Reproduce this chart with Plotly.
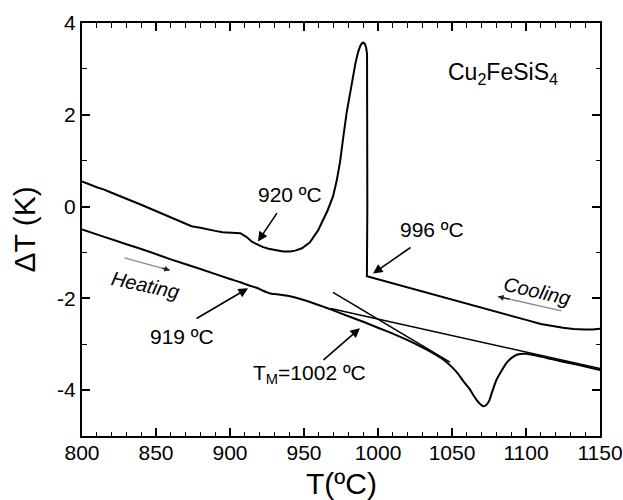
import plotly.graph_objects as go

# ---------------- data ----------------
heating_T = [800, 815, 830, 846, 860, 880, 900, 907, 912, 915, 918, 922, 925, 928, 931, 934, 940, 947,
             955, 962, 968, 980, 990, 1000, 1010, 1020, 1030, 1040, 1046, 1050, 1054, 1058, 1062, 1065,
             1068, 1071, 1073, 1075, 1077, 1080, 1084, 1087, 1091, 1095, 1100, 1110, 1118, 1125, 1135, 1150]
heating_dT = [-0.50, -0.66, -0.82, -0.99, -1.15, -1.36, -1.58, -1.65, -1.71, -1.74, -1.77, -1.83, -1.87,
              -1.90, -1.91, -1.92, -1.95, -2.01, -2.09, -2.17, -2.24, -2.39, -2.51, -2.64, -2.77, -2.91,
              -3.07, -3.25, -3.38, -3.50, -3.64, -3.82, -3.98, -4.14, -4.27, -4.35, -4.33, -4.24, -4.05,
              -3.78, -3.55, -3.40, -3.28, -3.22, -3.21, -3.27, -3.33, -3.38, -3.45, -3.56]

cooling_T = [1150, 1145, 1140, 1132, 1125, 1118, 1110, 1100, 1062, 1030, 992.5, 992.8, 993.0, 992.9, 992.6,
             992.0, 991.2, 990.2, 989.2, 988.0, 986.5, 984.8, 983.2, 981, 978.8, 976.5, 974.3, 972, 969.6,
             966, 962.8, 959.5, 954, 948.6, 944, 940.5, 936, 931.6, 926, 922, 919, 915, 911, 907, 901, 895,
             890, 885, 880, 874, 860, 840, 820, 815, 810, 800]
cooling_dT = [-2.66, -2.68, -2.68, -2.67, -2.64, -2.60, -2.56, -2.47, -2.13, -1.85, -1.52, 0.0, 2.5, 3.1,
              3.32, 3.46, 3.54, 3.57, 3.56, 3.50, 3.36, 3.13, 2.85, 2.50, 2.04, 1.50, 0.96, 0.55, 0.22,
              -0.08, -0.30, -0.52, -0.78, -0.91, -0.96, -0.98, -0.98, -0.96, -0.92, -0.88, -0.84, -0.77,
              -0.66, -0.58, -0.57, -0.56, -0.53, -0.49, -0.46, -0.43, -0.23, 0.04, 0.30, 0.37, 0.42, 0.55]

baseline_T = [968, 1150]
baseline_dT = [-2.22, -3.53]

tangent_T = [969.6, 1048.6]
tangent_dT = [-1.87, -3.39]

x_ticks = [800, 850, 900, 950, 1000, 1050, 1100, 1150]
y_ticks = [-4, -2, 0, 2, 4]
y_ticktext = ["-4", "-2", "0", "2", "4"]

# annotation anchors (data coordinates): text, x, y
labels = [
    ("920 ºC", 940.5, 0.26),
    ("996 ºC", 1036.5, -0.50),
    ("919 ºC", 867.6, -2.83),
    ("T<sub>M</sub>=1002 ºC", 954, -3.65),
]
# arrows: (head_x, head_y, tail_x, tail_y)
black_arrows = [
    (918.9, -0.76, 932.4, -0.11),
    (996.6, -1.46, 1023.0, -0.87),
    (912.2, -1.78, 876.4, -2.46),
    (987.8, -2.65, 962.2, -3.37),
]
gray_arrows = [
    (859.5, -1.39, 827.7, -1.11),
    (1081.0, -1.96, 1125.0, -2.28),
]

FONT = "Liberation Sans, Arial, Helvetica, sans-serif"

fig = go.Figure()
fig.add_trace(go.Scatter(x=heating_T, y=heating_dT, mode="lines",
                         line=dict(color="black", width=2, shape="spline", smoothing=0.6)))
fig.add_trace(go.Scatter(x=cooling_T, y=cooling_dT, mode="lines",
                         line=dict(color="black", width=2)))
fig.add_trace(go.Scatter(x=baseline_T, y=baseline_dT, mode="lines", line=dict(color="black", width=1.6)))
fig.add_trace(go.Scatter(x=tangent_T, y=tangent_dT, mode="lines", line=dict(color="black", width=1.6)))

for txt, x, y in labels:
    fig.add_annotation(x=x, y=y, text=txt, showarrow=False, font=dict(size=21, color="black", family=FONT))

fig.add_annotation(x=1084.5, y=2.91, text="Cu<sub>2</sub>FeSiS<sub>4</sub>", showarrow=False,
                   font=dict(size=23, color="black", family=FONT))
fig.add_annotation(x=842.6, y=-1.70, text="<i>Heating</i>", showarrow=False, textangle=12,
                   font=dict(size=20, color="black", family=FONT))
fig.add_annotation(x=1107.4, y=-1.85, text="<i>Cooling</i>", showarrow=False, textangle=13,
                   font=dict(size=20, color="black", family=FONT))

for hx, hy, tx, ty in black_arrows:
    fig.add_annotation(x=hx, y=hy, ax=tx, ay=ty, xref="x", yref="y", axref="x", ayref="y",
                       text="", showarrow=True, arrowhead=2, arrowsize=1.2, arrowwidth=1.6,
                       arrowcolor="black")
for hx, hy, tx, ty in gray_arrows:
    fig.add_annotation(x=hx, y=hy, ax=tx, ay=ty, xref="x", yref="y", axref="x", ayref="y",
                       text="", showarrow=True, arrowhead=0, arrowwidth=1.3, arrowcolor="#8a8a8a")
    fig.add_annotation(x=hx, y=hy, ax=hx - (hx - tx) * 0.2, ay=hy - (hy - ty) * 0.2,
                       xref="x", yref="y", axref="x", ayref="y",
                       text="", showarrow=True, arrowhead=2, arrowsize=0.9, arrowwidth=1.3,
                       arrowcolor="#222")

# axis titles
fig.add_annotation(x=0.5, y=0, xref="paper", yref="paper", xanchor="center", yanchor="middle",
                   yshift=-47, text="T(ºC)", showarrow=False,
                   font=dict(size=30, color="black", family=FONT))
fig.add_annotation(x=0, y=0.5, xref="paper", yref="paper", xanchor="center", yanchor="middle",
                   xshift=-58, text="ΔT (K)", showarrow=False,
                   textangle=-90, font=dict(size=30, color="black", family=FONT))

axis_common = dict(
    showline=True, linewidth=2, linecolor="black", mirror="allticks",
    ticks="inside", ticklen=8, tickwidth=1.5, tickcolor="black",
    showgrid=False, zeroline=False, automargin=False,
    tickfont=dict(size=21, color="black", family=FONT),
)
fig.update_xaxes(range=[800, 1150], tickvals=x_ticks, ticklabelstandoff=-3,
                 minor=dict(dtick=10, ticks="inside", ticklen=4.5, tickwidth=1.2, tickcolor="black", showgrid=False),
                 **axis_common)
fig.update_yaxes(range=[-5, 4], tickvals=y_ticks, ticktext=y_ticktext,
                 minor=dict(dtick=1, tick0=0, ticks="inside", ticklen=4.5, tickwidth=1.2, tickcolor="black", showgrid=False),
                 **axis_common)

fig.update_layout(width=623, height=500, margin=dict(l=82, r=23, t=23, b=64),
                  plot_bgcolor="white", paper_bgcolor="white", showlegend=False)

fig.write_html("out.html")
